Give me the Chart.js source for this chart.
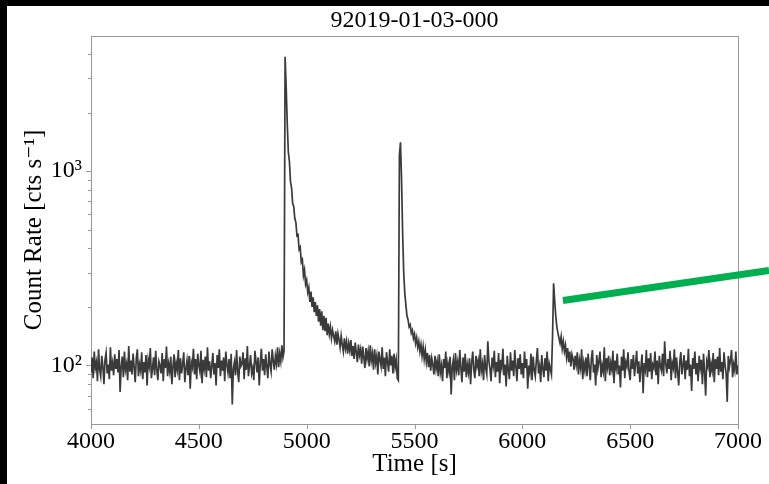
<!DOCTYPE html>
<html>
<head>
<meta charset="utf-8">
<script src="https://cdn.jsdelivr.net/npm/chart.js@4.4.1/dist/chart.umd.min.js"></script>
<style>
  html, body { margin: 0; padding: 0; background: #000; }
  #frame { position: absolute; left: 7px; top: 6px; width: 762px; height: 478px; background: #fff; }
</style>
</head>
<body>
<div id="frame"><canvas id="lc" width="762" height="478"></canvas></div>
<script>
// light curve, 5 s bins starting at 4000 s (one row = 50 s)
const t0 = 4000;
const binSize = 5;
const rates = [
  92, 110, 86, 118, 97, 104, 83, 121, 95, 88,
  112, 99, 80, 107, 116, 91, 101, 85, 124, 94,
  103, 89, 114, 96, 108, 92, 120, 73, 99, 111,
  87, 118, 95, 102, 84, 126, 93, 106, 90, 115,
  98, 82, 109, 121, 88, 101, 94, 117, 85, 104,
  92, 113, 79, 107, 99, 123, 86, 96, 110, 89,
  119, 95, 84, 105, 100, 91, 116, 83, 108, 97,
  125, 88, 102, 93, 111, 80, 98, 114, 87, 103,
  95, 120, 84, 109, 91, 101, 117, 82, 96, 106,
  89, 112, 76, 104, 98, 122, 90, 108, 85, 115,
  100, 93, 119, 81, 107, 96, 111, 87, 124, 94,
  105, 86, 99, 116, 90, 103, 79, 113, 97, 121,
  88, 106, 94, 110, 83, 118, 101, 92, 108, 86,
  115, 63, 96, 104, 89, 120, 93, 82, 111, 99,
  102, 117, 85, 109, 95, 126, 88, 100, 113, 91,
  97, 84, 119, 105, 92, 110, 79, 103, 122, 94,
  108, 89, 114, 99, 86, 118, 101, 93, 121, 106,
  95, 112, 102, 124, 98, 115, 105, 127, 110, 118,
  3870, 2700, 1750, 1250, 1120, 880, 820, 680, 660, 570,
  545, 465, 470, 395, 405, 340, 350, 290, 310, 262,
  275, 238, 252, 212, 240, 200, 224, 188, 212, 180,
  204, 168, 195, 160, 190, 152, 180, 150, 176, 143,
  164, 145, 158, 138, 152, 142, 133, 150, 128, 146,
  136, 124, 142, 128, 118, 138, 122, 133, 115, 130,
  119, 135, 112, 126, 108, 131, 117, 104, 128, 113,
  121, 102, 125, 110, 97, 123, 108, 118, 99, 127,
  106, 115, 95, 121, 103, 112, 90, 118, 107, 99,
  124, 96, 110, 88, 117, 104, 93, 121, 100, 112,
  91, 115, 98, 107, 86, 84, 1200, 1405, 900, 480,
  300, 235, 205, 180, 172, 158, 162, 147, 152, 138,
  145, 130, 139, 124, 133, 118, 128, 112, 125, 108,
  120, 104, 116, 98, 113, 94, 109, 101, 90, 112,
  96, 105, 88, 114, 92, 100, 83, 108, 97, 118,
  86, 102, 93, 111, 71, 99, 107, 84, 116, 95,
  104, 89, 120, 97, 82, 110, 93, 115, 87, 101,
  92, 109, 80, 103, 118, 95, 86, 112, 99, 106,
  88, 121, 94, 102, 84, 113, 97, 90, 133, 105,
  96, 83, 110, 100, 119, 87, 104, 93, 116, 81,
  107, 98, 122, 89, 101, 78, 112, 95, 85, 117,
  94, 106, 88, 120, 99, 83, 109, 96, 114, 90,
  103, 86, 118, 97, 108, 76, 100, 92, 115, 84,
  111, 95, 88, 106, 123, 91, 99, 82, 113, 97,
  87, 109, 94, 118, 83, 102, 96, 90, 140, 265,
  215, 180, 158, 147, 138, 130, 141, 122, 133, 118,
  127, 110, 123, 104, 118, 99, 114, 108, 95, 112,
  101, 117, 90, 106, 97, 121, 85, 103, 94, 110,
  88, 115, 99, 84, 108, 120, 92, 101, 79, 113,
  96, 105, 118, 87, 100, 93, 124, 83, 109, 98,
  112, 89, 103, 95, 119, 81, 106, 97, 115, 90,
  100, 77, 111, 94, 121, 86, 104, 99, 117, 92,
  84, 108, 96, 113, 88, 102, 119, 91, 105, 82,
  98, 114, 72, 103, 95, 120, 87, 109, 93, 116,
  85, 101, 97, 118, 89, 106, 80, 112, 99, 94,
  115, 88, 133, 102, 91, 108, 96, 119, 84, 103,
  97, 121, 86, 110, 93, 79, 104, 117, 90, 100,
  113, 85, 106, 95, 122, 88, 101, 74, 109, 96,
  118, 90, 103, 83, 112, 97, 107, 80, 115, 93,
  70, 105, 99, 120, 87, 102, 94, 116, 82, 108,
  96, 111, 89, 123, 93, 104, 85, 117, 100, 91,
  65, 112, 98, 106, 120, 87, 101, 94, 118, 90,
  100
];

// green pointer line (time, rate)
const markerTimes = [6188, 7144];
const markerRates = [216, 308];

const xTicks = [4000, 4500, 5000, 5500, 6000, 6500, 7000];
const yTicks = [60, 70, 80, 90, 100, 200, 300, 400, 500, 600, 700, 800, 900, 1000, 2000, 3000, 4000];
const yMajor = { 100: '10²', 1000: '10³' };

const serif = "'Liberation Serif', 'DejaVu Serif', serif";
const axisGrey = '#999999';

const curve = rates.map((r, i) => ({ x: t0 + i * binSize, y: r }));
const marker = markerTimes.map((t, i) => ({ x: t, y: markerRates[i] }));

// matplotlib-like spines and outward ticks
const spines = {
  id: 'spines',
  beforeDatasetsDraw(chart) {
    const { ctx, chartArea: a, scales: { x, y } } = chart;
    ctx.save();
    ctx.strokeStyle = axisGrey;
    ctx.lineWidth = 1;
    ctx.strokeRect(Math.round(a.left) + 0.5, Math.round(a.top) + 0.5,
      Math.round(a.right - a.left), Math.round(a.bottom - a.top));
    ctx.beginPath();
    xTicks.forEach(v => {
      const px = Math.round(x.getPixelForValue(v)) + 0.5;
      ctx.moveTo(px, a.bottom);
      ctx.lineTo(px, a.bottom + 5);
    });
    yTicks.forEach(v => {
      const py = Math.round(y.getPixelForValue(v)) + 0.5;
      const len = yMajor[v] ? 5 : 3;
      ctx.moveTo(a.left, py);
      ctx.lineTo(a.left - len, py);
    });
    ctx.stroke();
    ctx.restore();
  }
};

new Chart(document.getElementById('lc'), {
  type: 'line',
  data: {
    datasets: [{
      label: 'marker',
      data: marker,
      borderColor: '#00b050',
      borderWidth: 7,
      borderCapStyle: 'butt',
      pointRadius: 0,
      clip: false
    }, {
      label: 'count rate',
      data: curve,
      borderColor: '#3a3a3a',
      borderWidth: 1.7,
      pointRadius: 0,
      tension: 0
    }]
  },
  options: {
    responsive: false,
    animation: false,
    events: [],
    layout: { padding: { left: 0, right: 31, top: 0, bottom: 0 } },
    plugins: {
      legend: { display: false },
      tooltip: { enabled: false },
      title: {
        display: true,
        fullSize: false,
        text: '92019-01-03-000',
        color: '#000',
        font: { family: serif, size: 24, weight: 'normal' },
        padding: { top: 0, bottom: 1.2 }
      }
    },
    scales: {
      x: {
        type: 'linear',
        min: 4000,
        max: 7000,
        afterFit(s) { s.height = 60; },
        afterBuildTicks(s) { s.ticks = xTicks.map(v => ({ value: v })); },
        grid: { display: false, drawTicks: false },
        border: { display: false },
        ticks: {
          color: '#000',
          padding: 3,
          autoSkip: false,
          maxRotation: 0,
          font: { family: serif, size: 24 },
          callback: v => String(v)
        },
        title: {
          display: true,
          text: 'Time [s]',
          color: '#000',
          font: { family: serif, size: 25 },
          padding: { top: 0, bottom: 5 }
        }
      },
      y: {
        type: 'logarithmic',
        min: 50,
        max: 4950,
        afterFit(s) { s.width = 84; },
        afterBuildTicks(s) { s.ticks = yTicks.map(v => ({ value: v })); },
        grid: { display: false, drawTicks: false },
        border: { display: false },
        ticks: {
          color: '#000',
          padding: 9,
          autoSkip: false,
          font: { family: serif, size: 24 },
          callback: v => yMajor[v] || null
        },
        title: {
          display: true,
          text: 'Count Rate [cts s⁻¹]',
          color: '#000',
          font: { family: serif, size: 25 },
          padding: { top: 12, bottom: 0 }
        }
      }
    }
  },
  plugins: [spines]
});
</script>
</body>
</html>
